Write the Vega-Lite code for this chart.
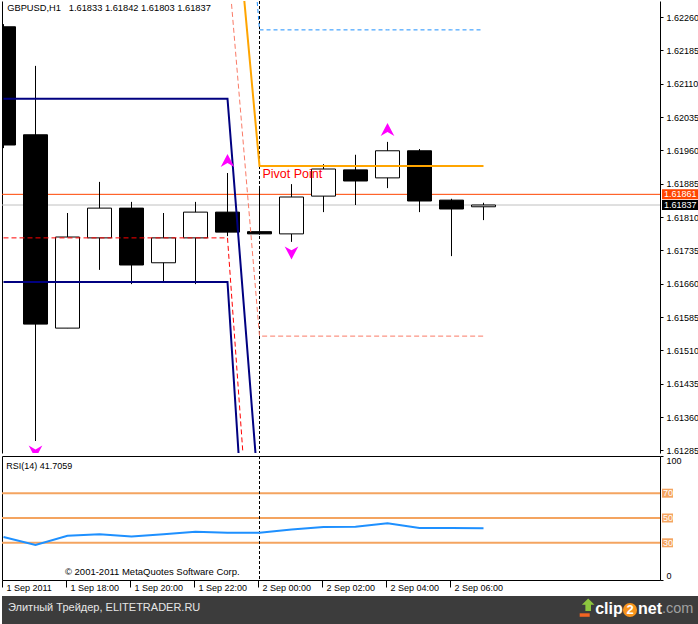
{
  "$schema": "https://vega.github.io/schema/vega-lite/v6.json",
  "padding": {"left": 1, "top": 0, "right": 0, "bottom": 0},
  "background": "white",
  "spacing": 4,
  "config": {
    "view": {"stroke": null},
    "font": "Liberation Sans",
    "axis": {"labelFont": "Liberation Sans", "labelFontSize": 9, "labelColor": "#000000", "domainColor": "#000000", "tickColor": "#000000", "domainWidth": 1, "tickWidth": 1, "grid": false},
    "text": {"font": "Liberation Sans", "fontSize": 9, "color": "#000000"}
  },
  "datasets": {
    "candles": [
      {"t": "2011-09-01T16:00:00", "open": 1.62238, "high": 1.62244, "low": 1.61965, "close": 1.61972},
      {"t": "2011-09-01T17:00:00", "open": 1.61995, "high": 1.6215, "low": 1.61306, "close": 1.61569},
      {"t": "2011-09-01T18:00:00", "open": 1.6156, "high": 1.61819, "low": 1.6156, "close": 1.61765},
      {"t": "2011-09-01T19:00:00", "open": 1.61763, "high": 1.61889, "low": 1.61691, "close": 1.6183},
      {"t": "2011-09-01T20:00:00", "open": 1.6183, "high": 1.61844, "low": 1.61659, "close": 1.61702},
      {"t": "2011-09-01T21:00:00", "open": 1.61707, "high": 1.61819, "low": 1.61666, "close": 1.61763},
      {"t": "2011-09-01T22:00:00", "open": 1.61763, "high": 1.61844, "low": 1.61659, "close": 1.61821},
      {"t": "2011-09-01T23:00:00", "open": 1.61821, "high": 1.61909, "low": 1.61767, "close": 1.61776},
      {"t": "2011-09-02T00:00:00", "open": 1.61777, "high": 1.6188, "low": 1.6177, "close": 1.61772},
      {"t": "2011-09-02T01:00:00", "open": 1.61772, "high": 1.61884, "low": 1.61754, "close": 1.61855},
      {"t": "2011-09-02T02:00:00", "open": 1.61857, "high": 1.61929, "low": 1.61821, "close": 1.61918},
      {"t": "2011-09-02T03:00:00", "open": 1.61916, "high": 1.6195, "low": 1.61837, "close": 1.61891},
      {"t": "2011-09-02T04:00:00", "open": 1.61898, "high": 1.61979, "low": 1.61875, "close": 1.61959},
      {"t": "2011-09-02T05:00:00", "open": 1.61959, "high": 1.61963, "low": 1.61821, "close": 1.61846},
      {"t": "2011-09-02T06:00:00", "open": 1.61848, "high": 1.61851, "low": 1.61722, "close": 1.61828},
      {"t": "2011-09-02T07:00:00", "open": 1.61833, "high": 1.61842, "low": 1.61803, "close": 1.61837}
    ],
    "ind": [
      {"series": "navy_hi", "t": "2011-09-01T16:00:00", "price": 1.62076},
      {"series": "navy_hi", "t": "2011-09-01T17:00:00", "price": 1.62076},
      {"series": "navy_hi", "t": "2011-09-01T18:00:00", "price": 1.62076},
      {"series": "navy_hi", "t": "2011-09-01T19:00:00", "price": 1.62076},
      {"series": "navy_hi", "t": "2011-09-01T20:00:00", "price": 1.62076},
      {"series": "navy_hi", "t": "2011-09-01T21:00:00", "price": 1.62076},
      {"series": "navy_hi", "t": "2011-09-01T22:00:00", "price": 1.62076},
      {"series": "navy_hi", "t": "2011-09-01T23:00:00", "price": 1.62076},
      {"series": "navy_hi", "t": "2011-09-02T00:00:00", "price": 1.61164},
      {"series": "navy_lo", "t": "2011-09-01T16:00:00", "price": 1.61664},
      {"series": "navy_lo", "t": "2011-09-01T17:00:00", "price": 1.61664},
      {"series": "navy_lo", "t": "2011-09-01T18:00:00", "price": 1.61664},
      {"series": "navy_lo", "t": "2011-09-01T19:00:00", "price": 1.61664},
      {"series": "navy_lo", "t": "2011-09-01T20:00:00", "price": 1.61664},
      {"series": "navy_lo", "t": "2011-09-01T21:00:00", "price": 1.61664},
      {"series": "navy_lo", "t": "2011-09-01T22:00:00", "price": 1.61664},
      {"series": "navy_lo", "t": "2011-09-01T23:00:00", "price": 1.61664},
      {"series": "navy_lo", "t": "2011-09-02T00:00:00", "price": 1.60546},
      {"series": "red", "t": "2011-09-01T16:00:00", "price": 1.61763},
      {"series": "red", "t": "2011-09-01T17:00:00", "price": 1.61763},
      {"series": "red", "t": "2011-09-01T18:00:00", "price": 1.61763},
      {"series": "red", "t": "2011-09-01T19:00:00", "price": 1.61763},
      {"series": "red", "t": "2011-09-01T20:00:00", "price": 1.61763},
      {"series": "red", "t": "2011-09-01T21:00:00", "price": 1.61763},
      {"series": "red", "t": "2011-09-01T22:00:00", "price": 1.61763},
      {"series": "red", "t": "2011-09-01T23:00:00", "price": 1.61763},
      {"series": "red", "t": "2011-09-02T00:00:00", "price": 1.60757},
      {"series": "pivot", "t": "2011-09-01T23:00:00", "price": 1.62708},
      {"series": "pivot", "t": "2011-09-02T00:00:00", "price": 1.61925},
      {"series": "pivot", "t": "2011-09-02T01:00:00", "price": 1.61925},
      {"series": "pivot", "t": "2011-09-02T02:00:00", "price": 1.61925},
      {"series": "pivot", "t": "2011-09-02T03:00:00", "price": 1.61925},
      {"series": "pivot", "t": "2011-09-02T04:00:00", "price": 1.61925},
      {"series": "pivot", "t": "2011-09-02T05:00:00", "price": 1.61925},
      {"series": "pivot", "t": "2011-09-02T06:00:00", "price": 1.61925},
      {"series": "pivot", "t": "2011-09-02T07:00:00", "price": 1.61925},
      {"series": "r1", "t": "2011-09-01T23:00:00", "price": 1.6311},
      {"series": "r1", "t": "2011-09-02T00:00:00", "price": 1.62231},
      {"series": "r1", "t": "2011-09-02T01:00:00", "price": 1.62231},
      {"series": "r1", "t": "2011-09-02T02:00:00", "price": 1.62231},
      {"series": "r1", "t": "2011-09-02T03:00:00", "price": 1.62231},
      {"series": "r1", "t": "2011-09-02T04:00:00", "price": 1.62231},
      {"series": "r1", "t": "2011-09-02T05:00:00", "price": 1.62231},
      {"series": "r1", "t": "2011-09-02T06:00:00", "price": 1.62231},
      {"series": "r1", "t": "2011-09-02T07:00:00", "price": 1.62231},
      {"series": "s1", "t": "2011-09-01T23:00:00", "price": 1.62397},
      {"series": "s1", "t": "2011-09-02T00:00:00", "price": 1.61542},
      {"series": "s1", "t": "2011-09-02T01:00:00", "price": 1.61542},
      {"series": "s1", "t": "2011-09-02T02:00:00", "price": 1.61542},
      {"series": "s1", "t": "2011-09-02T03:00:00", "price": 1.61542},
      {"series": "s1", "t": "2011-09-02T04:00:00", "price": 1.61542},
      {"series": "s1", "t": "2011-09-02T05:00:00", "price": 1.61542},
      {"series": "s1", "t": "2011-09-02T06:00:00", "price": 1.61542},
      {"series": "s1", "t": "2011-09-02T07:00:00", "price": 1.61542}
    ],
    "fractals": [
      {"t": "2011-09-01T17:00:00", "price": 1.61306, "dir": "down"},
      {"t": "2011-09-01T23:00:00", "price": 1.61909, "dir": "up"},
      {"t": "2011-09-02T01:00:00", "price": 1.61754, "dir": "down"},
      {"t": "2011-09-02T04:00:00", "price": 1.61979, "dir": "up"}
    ],
    "pricelines": [
      {"line": "ask", "price": 1.61861},
      {"line": "bid", "price": 1.61837}
    ],
    "separators": [{"t": "2011-09-02T00:00:00"}],
    "rsi": [
      {"t": "2011-09-01T16:00:00", "rsi": 34.7},
      {"t": "2011-09-01T17:00:00", "rsi": 28.3},
      {"t": "2011-09-01T18:00:00", "rsi": 35.7},
      {"t": "2011-09-01T19:00:00", "rsi": 36.9},
      {"t": "2011-09-01T20:00:00", "rsi": 35.1},
      {"t": "2011-09-01T21:00:00", "rsi": 36.9},
      {"t": "2011-09-01T22:00:00", "rsi": 39.0},
      {"t": "2011-09-01T23:00:00", "rsi": 38.1},
      {"t": "2011-09-02T00:00:00", "rsi": 38.1},
      {"t": "2011-09-02T01:00:00", "rsi": 40.7},
      {"t": "2011-09-02T02:00:00", "rsi": 42.7},
      {"t": "2011-09-02T03:00:00", "rsi": 43.0},
      {"t": "2011-09-02T04:00:00", "rsi": 45.7},
      {"t": "2011-09-02T05:00:00", "rsi": 41.9},
      {"t": "2011-09-02T06:00:00", "rsi": 41.9},
      {"t": "2011-09-02T07:00:00", "rsi": 41.7059}
    ],
    "levels": [{"level": 70}, {"level": 50}, {"level": 30}],
    "footer": [
      {"part": "site", "label": "Элитный Трейдер, ELITETRADER.RU"},
      {"part": "icon", "label": ""},
      {"part": "clip", "label": "clip"},
      {"part": "two", "label": "2"},
      {"part": "net", "label": "net"},
      {"part": "com", "label": ".com"}
    ]
  },
  "vconcat": [
    {
      "bounds": "flush",
      "spacing": 3,
      "vconcat": [
        {
          "width": 658,
          "height": 452,
          "resolve": {"axis": {"y": "independent"}},
          "layer": [
            {
              "data": {"name": "pricelines"},
              "mark": {"type": "rule", "strokeWidth": 1},
              "encoding": {
                "y": {"field": "price", "type": "quantitative", "scale": {"domain": [1.61279, 1.62296], "nice": false, "zero": false, "padding": 0}, "axis": {"orient": "left", "labels": false, "ticks": false, "domain": true, "grid": false, "title": null}},
                "color": {"condition": {"test": "datum.line == 'ask'", "value": "#FF4500"}, "value": "#C0C0C0"}
              }
            },
            {
              "data": {"name": "separators"},
              "mark": {"type": "rule", "color": "#000000", "strokeDash": [3, 2], "strokeWidth": 1},
              "encoding": {
                "x": {"field": "t", "type": "temporal", "scale": {"domain": [{"year": 2011, "month": 9, "date": 1, "hours": 15, "minutes": 57, "seconds": 11, "milliseconds": 250}, {"year": 2011, "month": 9, "date": 2, "hours": 12, "minutes": 30, "seconds": 56, "milliseconds": 250}], "padding": 0}, "axis": null}
              }
            },
            {
              "data": {"name": "candles"},
              "mark": {"type": "rule", "color": "#000000", "strokeWidth": 1, "clip": true},
              "encoding": {
                "x": {"field": "t", "type": "temporal", "scale": {"domain": [{"year": 2011, "month": 9, "date": 1, "hours": 15, "minutes": 57, "seconds": 11, "milliseconds": 250}, {"year": 2011, "month": 9, "date": 2, "hours": 12, "minutes": 30, "seconds": 56, "milliseconds": 250}], "padding": 0}, "axis": {"orient": "bottom", "labels": false, "ticks": false, "domain": true, "grid": false, "title": null}},
                "y": {"field": "low", "type": "quantitative", "scale": {"domain": [1.61279, 1.62296], "nice": false, "zero": false, "padding": 0}, "axis": {"orient": "right", "values": [1.61285, 1.6136, 1.61435, 1.6151, 1.61585, 1.6166, 1.61735, 1.6181, 1.61885, 1.6196, 1.62035, 1.6211, 1.62185, 1.6226], "format": ".5f", "tickSize": 3, "labelPadding": 3, "labelOverlap": false, "labelFlush": false, "labelBound": false, "domain": true, "grid": false, "title": null}},
                "y2": {"field": "high"}
              }
            },
            {
              "data": {"name": "candles"},
              "mark": {"type": "bar", "width": 24, "stroke": "#000000", "strokeWidth": 1, "clip": true},
              "encoding": {
                "x": {"field": "t", "type": "temporal", "scale": {"domain": [{"year": 2011, "month": 9, "date": 1, "hours": 15, "minutes": 57, "seconds": 11, "milliseconds": 250}, {"year": 2011, "month": 9, "date": 2, "hours": 12, "minutes": 30, "seconds": 56, "milliseconds": 250}], "padding": 0}, "axis": null},
                "y": {"field": "open", "type": "quantitative", "scale": {"domain": [1.61279, 1.62296], "nice": false, "zero": false, "padding": 0}, "axis": null},
                "y2": {"field": "close"},
                "fill": {"condition": {"test": "datum.open > datum.close", "value": "#000000"}, "value": "#FFFFFF"}
              }
            },
            {
              "data": {"name": "ind"},
              "transform": [{"filter": "datum.series == 'navy_hi' || datum.series == 'navy_lo'"}],
              "mark": {"type": "line", "color": "#000080", "strokeWidth": 2, "clip": true},
              "encoding": {
                "x": {"field": "t", "type": "temporal", "scale": {"domain": [{"year": 2011, "month": 9, "date": 1, "hours": 15, "minutes": 57, "seconds": 11, "milliseconds": 250}, {"year": 2011, "month": 9, "date": 2, "hours": 12, "minutes": 30, "seconds": 56, "milliseconds": 250}], "padding": 0}, "axis": null},
                "y": {"field": "price", "type": "quantitative", "scale": {"domain": [1.61279, 1.62296], "nice": false, "zero": false, "padding": 0}, "axis": null},
                "detail": {"field": "series"}
              }
            },
            {
              "data": {"name": "ind"},
              "transform": [{"filter": "datum.series == 'red'"}],
              "mark": {"type": "line", "color": "#FF0000", "strokeWidth": 1, "strokeDash": [5, 3], "clip": true},
              "encoding": {
                "x": {"field": "t", "type": "temporal", "scale": {"domain": [{"year": 2011, "month": 9, "date": 1, "hours": 15, "minutes": 57, "seconds": 11, "milliseconds": 250}, {"year": 2011, "month": 9, "date": 2, "hours": 12, "minutes": 30, "seconds": 56, "milliseconds": 250}], "padding": 0}, "axis": null},
                "y": {"field": "price", "type": "quantitative", "scale": {"domain": [1.61279, 1.62296], "nice": false, "zero": false, "padding": 0}, "axis": null}
              }
            },
            {
              "data": {"name": "ind"},
              "transform": [{"filter": "datum.series == 's1'"}],
              "mark": {"type": "line", "color": "#FA7A66", "strokeWidth": 1, "strokeDash": [5, 3], "clip": true},
              "encoding": {
                "x": {"field": "t", "type": "temporal", "scale": {"domain": [{"year": 2011, "month": 9, "date": 1, "hours": 15, "minutes": 57, "seconds": 11, "milliseconds": 250}, {"year": 2011, "month": 9, "date": 2, "hours": 12, "minutes": 30, "seconds": 56, "milliseconds": 250}], "padding": 0}, "axis": null},
                "y": {"field": "price", "type": "quantitative", "scale": {"domain": [1.61279, 1.62296], "nice": false, "zero": false, "padding": 0}, "axis": null}
              }
            },
            {
              "data": {"name": "ind"},
              "transform": [{"filter": "datum.series == 'r1'"}],
              "mark": {"type": "line", "color": "#1E90FF", "strokeWidth": 1, "strokeDash": [4, 3], "clip": true},
              "encoding": {
                "x": {"field": "t", "type": "temporal", "scale": {"domain": [{"year": 2011, "month": 9, "date": 1, "hours": 15, "minutes": 57, "seconds": 11, "milliseconds": 250}, {"year": 2011, "month": 9, "date": 2, "hours": 12, "minutes": 30, "seconds": 56, "milliseconds": 250}], "padding": 0}, "axis": null},
                "y": {"field": "price", "type": "quantitative", "scale": {"domain": [1.61279, 1.62296], "nice": false, "zero": false, "padding": 0}, "axis": null}
              }
            },
            {
              "data": {"name": "ind"},
              "transform": [{"filter": "datum.series == 'pivot'"}],
              "mark": {"type": "line", "color": "#FFA500", "strokeWidth": 2, "clip": true},
              "encoding": {
                "x": {"field": "t", "type": "temporal", "scale": {"domain": [{"year": 2011, "month": 9, "date": 1, "hours": 15, "minutes": 57, "seconds": 11, "milliseconds": 250}, {"year": 2011, "month": 9, "date": 2, "hours": 12, "minutes": 30, "seconds": 56, "milliseconds": 250}], "padding": 0}, "axis": null},
                "y": {"field": "price", "type": "quantitative", "scale": {"domain": [1.61279, 1.62296], "nice": false, "zero": false, "padding": 0}, "axis": null}
              }
            },
            {
              "data": {"name": "fractals"},
              "transform": [{"filter": "datum.dir == 'up'"}],
              "mark": {"type": "point", "shape": "M0,-1L1.05,1L0,0.4L-1.05,1Z", "filled": true, "color": "#FF00FF", "opacity": 1, "size": 169, "yOffset": -12.5, "clip": true},
              "encoding": {
                "x": {"field": "t", "type": "temporal", "scale": {"domain": [{"year": 2011, "month": 9, "date": 1, "hours": 15, "minutes": 57, "seconds": 11, "milliseconds": 250}, {"year": 2011, "month": 9, "date": 2, "hours": 12, "minutes": 30, "seconds": 56, "milliseconds": 250}], "padding": 0}, "axis": null},
                "y": {"field": "price", "type": "quantitative", "scale": {"domain": [1.61279, 1.62296], "nice": false, "zero": false, "padding": 0}, "axis": null}
              }
            },
            {
              "data": {"name": "fractals"},
              "transform": [{"filter": "datum.dir == 'down'"}],
              "mark": {"type": "point", "shape": "M0,1L1.05,-1L0,-0.4L-1.05,-1Z", "filled": true, "color": "#FF00FF", "opacity": 1, "size": 169, "yOffset": 11, "clip": true},
              "encoding": {
                "x": {"field": "t", "type": "temporal", "scale": {"domain": [{"year": 2011, "month": 9, "date": 1, "hours": 15, "minutes": 57, "seconds": 11, "milliseconds": 250}, {"year": 2011, "month": 9, "date": 2, "hours": 12, "minutes": 30, "seconds": 56, "milliseconds": 250}], "padding": 0}, "axis": null},
                "y": {"field": "price", "type": "quantitative", "scale": {"domain": [1.61279, 1.62296], "nice": false, "zero": false, "padding": 0}, "axis": null}
              }
            },
            {
              "data": {"values": [{"t": "2011-09-02T00:00:00", "price": 1.61925, "label": "Pivot Point"}]},
              "mark": {"type": "text", "align": "left", "baseline": "middle", "dx": 3, "dy": 8.5, "fontSize": 12.5, "color": "#FF0000"},
              "encoding": {
                "x": {"field": "t", "type": "temporal", "scale": {"domain": [{"year": 2011, "month": 9, "date": 1, "hours": 15, "minutes": 57, "seconds": 11, "milliseconds": 250}, {"year": 2011, "month": 9, "date": 2, "hours": 12, "minutes": 30, "seconds": 56, "milliseconds": 250}], "padding": 0}, "axis": null},
                "y": {"field": "price", "type": "quantitative", "scale": {"domain": [1.61279, 1.62296], "nice": false, "zero": false, "padding": 0}, "axis": null},
                "text": {"field": "label"}
              }
            },
            {
              "data": {"values": [{"label": "GBPUSD,H1\u00a0\u00a0\u00a01.61833 1.61842 1.61803 1.61837"}]},
              "mark": {"type": "text", "align": "left", "baseline": "middle", "fontSize": 9.3},
              "encoding": {
                "x": {"datum": {"year": 2011, "month": 9, "date": 1, "hours": 16, "minutes": 7}, "type": "temporal", "scale": {"domain": [{"year": 2011, "month": 9, "date": 1, "hours": 15, "minutes": 57, "seconds": 11, "milliseconds": 250}, {"year": 2011, "month": 9, "date": 2, "hours": 12, "minutes": 30, "seconds": 56, "milliseconds": 250}], "padding": 0}, "axis": null},
                "y": {"datum": 1.6228, "type": "quantitative", "scale": {"domain": [1.61279, 1.62296], "nice": false, "zero": false, "padding": 0}, "axis": null},
                "text": {"field": "label"}
              }
            },
            {
              "data": {"name": "pricelines"},
              "mark": {"type": "rect", "xOffset": 2, "x2Offset": 39, "yOffset": -5, "y2Offset": 5},
              "encoding": {
                "x": {"value": "width"},
                "x2": {"value": "width"},
                "y": {"field": "price", "type": "quantitative", "scale": {"domain": [1.61279, 1.62296], "nice": false, "zero": false, "padding": 0}, "axis": null},
                "y2": {"field": "price"},
                "fill": {"condition": {"test": "datum.line == 'ask'", "value": "#FF4500"}, "value": "#000000"}
              }
            },
            {
              "data": {"name": "pricelines"},
              "mark": {"type": "text", "align": "left", "baseline": "middle", "dx": 4, "fontSize": 9, "color": "#FFFFFF"},
              "encoding": {
                "x": {"value": "width"},
                "y": {"field": "price", "type": "quantitative", "scale": {"domain": [1.61279, 1.62296], "nice": false, "zero": false, "padding": 0}, "axis": null},
                "text": {"field": "price", "type": "quantitative", "format": ".5f"}
              }
            }
          ]
        },
        {
          "width": 658,
          "height": 124,
          "resolve": {"axis": {"x": "independent", "y": "independent"}},
          "layer": [
            {
              "data": {"name": "levels"},
              "mark": {"type": "rule", "color": "#F4A460", "strokeWidth": 2},
              "encoding": {
                "y": {"field": "level", "type": "quantitative", "scale": {"domain": [0, 100], "nice": false, "zero": false}, "axis": {"orient": "left", "labels": false, "ticks": false, "domain": true, "grid": false, "title": null}}
              }
            },
            {
              "data": {"name": "separators"},
              "mark": {"type": "rule", "color": "#000000", "strokeDash": [3, 2], "strokeWidth": 1},
              "encoding": {
                "x": {"field": "t", "type": "temporal", "scale": {"domain": [{"year": 2011, "month": 9, "date": 1, "hours": 15, "minutes": 57, "seconds": 11, "milliseconds": 250}, {"year": 2011, "month": 9, "date": 2, "hours": 12, "minutes": 30, "seconds": 56, "milliseconds": 250}], "padding": 0}, "axis": {"orient": "top", "labels": false, "ticks": false, "domain": true, "grid": false, "title": null}}
              }
            },
            {
              "data": {"name": "rsi"},
              "mark": {"type": "line", "color": "#1E90FF", "strokeWidth": 2, "clip": true},
              "encoding": {
                "x": {"field": "t", "type": "temporal", "scale": {"domain": [{"year": 2011, "month": 9, "date": 1, "hours": 15, "minutes": 57, "seconds": 11, "milliseconds": 250}, {"year": 2011, "month": 9, "date": 2, "hours": 12, "minutes": 30, "seconds": 56, "milliseconds": 250}], "padding": 0}, "axis": {"orient": "bottom", "values": [{"year": 2011, "month": 9, "date": 1, "hours": 16}, {"year": 2011, "month": 9, "date": 1, "hours": 18}, {"year": 2011, "month": 9, "date": 1, "hours": 20}, {"year": 2011, "month": 9, "date": 1, "hours": 22}, {"year": 2011, "month": 9, "date": 2, "hours": 0}, {"year": 2011, "month": 9, "date": 2, "hours": 2}, {"year": 2011, "month": 9, "date": 2, "hours": 4}, {"year": 2011, "month": 9, "date": 2, "hours": 6}], "labelExpr": "hours(datum.value) == 16 ? timeFormat(datum.value, '%-d %b %Y') : timeFormat(datum.value, '%-d %b %H:%M')", "labelFontSize": 9, "labelAlign": "left", "labelBaseline": "top", "labelOffset": 4, "tickOffset": -1.5, "tickSize": 7, "labelPadding": -4, "labelOverlap": false, "labelFlush": false, "labelBound": false, "domain": true, "grid": false, "title": null}},
                "y": {"field": "rsi", "type": "quantitative", "scale": {"domain": [0, 100], "nice": false, "zero": false}, "axis": {"orient": "right", "values": [0, 100], "tickSize": 3, "labelPadding": 3, "labelFlush": true, "domain": true, "grid": false, "title": null}}
              }
            },
            {
              "data": {"values": [{"label": "RSI(14) 41.7059"}]},
              "mark": {"type": "text", "align": "left", "baseline": "middle", "fontSize": 9},
              "encoding": {
                "x": {"datum": {"year": 2011, "month": 9, "date": 1, "hours": 16, "minutes": 5}, "type": "temporal", "scale": {"domain": [{"year": 2011, "month": 9, "date": 1, "hours": 15, "minutes": 57, "seconds": 11, "milliseconds": 250}, {"year": 2011, "month": 9, "date": 2, "hours": 12, "minutes": 30, "seconds": 56, "milliseconds": 250}], "padding": 0}, "axis": null},
                "y": {"datum": 92, "type": "quantitative", "scale": {"domain": [0, 100], "nice": false, "zero": false}, "axis": null},
                "text": {"field": "label"}
              }
            },
            {
              "data": {"values": [{"label": "© 2001-2011 MetaQuotes Software Corp."}]},
              "mark": {"type": "text", "align": "center", "baseline": "middle", "fontSize": 9.5},
              "encoding": {
                "x": {"datum": {"year": 2011, "month": 9, "date": 1, "hours": 20, "minutes": 39}, "type": "temporal", "scale": {"domain": [{"year": 2011, "month": 9, "date": 1, "hours": 15, "minutes": 57, "seconds": 11, "milliseconds": 250}, {"year": 2011, "month": 9, "date": 2, "hours": 12, "minutes": 30, "seconds": 56, "milliseconds": 250}], "padding": 0}, "axis": null},
                "y": {"datum": 6.5, "type": "quantitative", "scale": {"domain": [0, 100], "nice": false, "zero": false}, "axis": null},
                "text": {"field": "label"}
              }
            },
            {
              "data": {"name": "levels"},
              "mark": {"type": "rect", "xOffset": 2, "x2Offset": 13, "yOffset": -4.5, "y2Offset": 4.5, "color": "#F4A460"},
              "encoding": {
                "x": {"value": "width"},
                "x2": {"value": "width"},
                "y": {"field": "level", "type": "quantitative", "scale": {"domain": [0, 100], "nice": false, "zero": false}, "axis": null},
                "y2": {"field": "level"}
              }
            },
            {
              "data": {"name": "levels"},
              "mark": {"type": "text", "align": "left", "baseline": "middle", "dx": 3, "fontSize": 9, "color": "#FFFFFF"},
              "encoding": {
                "x": {"value": "width"},
                "y": {"field": "level", "type": "quantitative", "scale": {"domain": [0, 100], "nice": false, "zero": false}, "axis": null},
                "text": {"field": "level", "type": "quantitative"}
              }
            }
          ]
        }
      ]
    },
    {
      "width": 697,
      "height": 28,
      "view": {"fill": "#3C3C3C", "stroke": null},
      "layer": [
        {
          "data": {"name": "footer"},
          "transform": [{"filter": "datum.part == 'site'"}],
          "mark": {"type": "text", "align": "left", "baseline": "middle", "fontSize": 11, "color": "#E6E6E6"},
          "encoding": {
            "x": {"datum": 0.86, "type": "quantitative", "scale": {"domain": [0, 100], "nice": false, "zero": false}, "axis": null},
            "y": {"datum": 0.57, "type": "quantitative", "scale": {"domain": [0, 1], "nice": false, "zero": false}, "axis": null},
            "text": {"field": "label"}
          }
        },
        {
          "data": {"name": "footer"},
          "transform": [{"filter": "datum.part == 'icon'"}],
          "mark": {"type": "point", "shape": "M-1,-0.35L1,-0.35L1,0.35L-1,0.35Z", "filled": true, "opacity": 1, "color": "#F26522", "size": 100},
          "encoding": {
            "x": {"datum": 83.6, "type": "quantitative", "scale": {"domain": [0, 100], "nice": false, "zero": false}, "axis": null},
            "y": {"datum": 0.32, "type": "quantitative", "scale": {"domain": [0, 1], "nice": false, "zero": false}, "axis": null}
          }
        },
        {
          "data": {"name": "footer"},
          "transform": [{"filter": "datum.part == 'icon'"}],
          "mark": {"type": "point", "shape": "M0,-1L0.9,-0.1L0.4,-0.1L0.4,0.8L-0.4,0.8L-0.4,-0.1L-0.9,-0.1Z", "filled": true, "opacity": 1, "color": "#8DC63F", "size": 196},
          "encoding": {
            "x": {"datum": 84.1, "type": "quantitative", "scale": {"domain": [0, 100], "nice": false, "zero": false}, "axis": null},
            "y": {"datum": 0.66, "type": "quantitative", "scale": {"domain": [0, 1], "nice": false, "zero": false}, "axis": null}
          }
        },
        {
          "data": {"name": "footer"},
          "transform": [{"filter": "datum.part == 'clip'"}],
          "mark": {"type": "text", "align": "left", "baseline": "middle", "fontSize": 16, "fontWeight": "bold", "color": "#FFFFFF"},
          "encoding": {
            "x": {"datum": 85.1, "type": "quantitative", "scale": {"domain": [0, 100], "nice": false, "zero": false}, "axis": null},
            "y": {"datum": 0.54, "type": "quantitative", "scale": {"domain": [0, 1], "nice": false, "zero": false}, "axis": null},
            "text": {"field": "label"}
          }
        },
        {
          "data": {"name": "footer"},
          "transform": [{"filter": "datum.part == 'two'"}],
          "mark": {"type": "point", "shape": "circle", "filled": true, "opacity": 1, "color": "#F7941D", "size": 200},
          "encoding": {
            "x": {"datum": 90.1, "type": "quantitative", "scale": {"domain": [0, 100], "nice": false, "zero": false}, "axis": null},
            "y": {"datum": 0.5, "type": "quantitative", "scale": {"domain": [0, 1], "nice": false, "zero": false}, "axis": null}
          }
        },
        {
          "data": {"name": "footer"},
          "transform": [{"filter": "datum.part == 'two'"}],
          "mark": {"type": "text", "align": "center", "baseline": "middle", "fontSize": 13, "fontWeight": "bold", "color": "#FFFFFF"},
          "encoding": {
            "x": {"datum": 90.1, "type": "quantitative", "scale": {"domain": [0, 100], "nice": false, "zero": false}, "axis": null},
            "y": {"datum": 0.5, "type": "quantitative", "scale": {"domain": [0, 1], "nice": false, "zero": false}, "axis": null},
            "text": {"field": "label"}
          }
        },
        {
          "data": {"name": "footer"},
          "transform": [{"filter": "datum.part == 'net'"}],
          "mark": {"type": "text", "align": "left", "baseline": "middle", "fontSize": 16, "fontWeight": "bold", "color": "#FFFFFF"},
          "encoding": {
            "x": {"datum": 91.25, "type": "quantitative", "scale": {"domain": [0, 100], "nice": false, "zero": false}, "axis": null},
            "y": {"datum": 0.54, "type": "quantitative", "scale": {"domain": [0, 1], "nice": false, "zero": false}, "axis": null},
            "text": {"field": "label"}
          }
        },
        {
          "data": {"name": "footer"},
          "transform": [{"filter": "datum.part == 'com'"}],
          "mark": {"type": "text", "align": "left", "baseline": "middle", "fontSize": 14.5, "color": "#A0A0A0"},
          "encoding": {
            "x": {"datum": 94.69, "type": "quantitative", "scale": {"domain": [0, 100], "nice": false, "zero": false}, "axis": null},
            "y": {"datum": 0.54, "type": "quantitative", "scale": {"domain": [0, 1], "nice": false, "zero": false}, "axis": null},
            "text": {"field": "label"}
          }
        }
      ]
    }
  ]
}
